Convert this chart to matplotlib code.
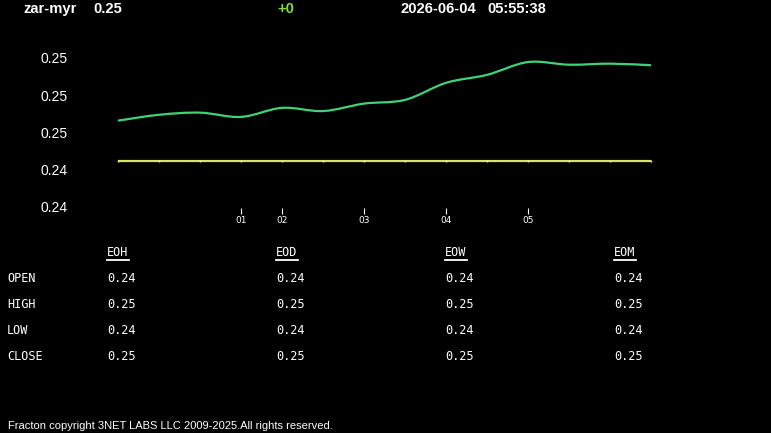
import matplotlib
matplotlib.use("Agg")
import matplotlib.pyplot as plt
from matplotlib.path import Path
from matplotlib.patches import PathPatch
from matplotlib.lines import Line2D
import numpy as np

# ---------------- data ----------------
symbol = "zar-myr"
last_price = "0.25"
change = "+0"
date_str = "2026-06-04"
time_str = "05:55:38"

price_series = [0.24562, 0.24573, 0.24577, 0.24569, 0.24586, 0.24580, 0.24594,
                0.24601, 0.24633, 0.24648, 0.24672, 0.24667, 0.24669, 0.24666]
ref_series = [0.24486] * 14

x_tick_pos = [3, 4, 6, 8, 10]
x_tick_labels = ["01", "02", "03", "04", "05"]
y_tick_values = [0.2440, 0.2447, 0.2454, 0.2461, 0.2468]
y_tick_labels = ["0.24", "0.24", "0.25", "0.25", "0.25"]

table_cols = ["EOH", "EOD", "EOW", "EOM"]
table_rows = ["OPEN", "HIGH", "LOW", "CLOSE"]
table_open = ["0.24", "0.24", "0.24", "0.24"]
table_high = ["0.25", "0.25", "0.25", "0.25"]
table_low = ["0.24", "0.24", "0.24", "0.24"]
table_close = ["0.25", "0.25", "0.25", "0.25"]
footer = "Fracton copyright 3NET LABS LLC 2009-2025.All rights reserved."

# ---------------- figure ----------------
W, H = 771, 433
fig = plt.figure(figsize=(W / 100, H / 100), dpi=100, facecolor="black")

def fx(x):
    return x / W

def fy(y):
    return 1 - y / H

ax_l, ax_r, ax_t, ax_b = 100, 670, 45, 208
ax = fig.add_axes([fx(ax_l), fy(ax_b), (ax_r - ax_l) / W, (ax_b - ax_t) / H])
ax.set_facecolor("black")
for s in ax.spines.values():
    s.set_visible(False)

n = len(price_series)
xs = np.arange(n)

def smooth_path(xv, yv):
    xv = np.asarray(xv, float)
    yv = np.asarray(yv, float)
    verts = [(xv[0], yv[0])]
    codes = [Path.MOVETO]
    for i in range(len(xv) - 1):
        p0 = (xv[max(i - 1, 0)], yv[max(i - 1, 0)])
        p1 = (xv[i], yv[i])
        p2 = (xv[i + 1], yv[i + 1])
        p3 = (xv[min(i + 2, len(xv) - 1)], yv[min(i + 2, len(xv) - 1)])
        c1 = (p1[0] + (p2[0] - p0[0]) / 6, p1[1] + (p2[1] - p0[1]) / 6)
        c2 = (p2[0] - (p3[0] - p1[0]) / 6, p2[1] - (p3[1] - p1[1]) / 6)
        verts += [c1, c2, p2]
        codes += [Path.CURVE4] * 3
    return Path(verts, codes)

ax.add_patch(PathPatch(smooth_path(xs, price_series), facecolor="none",
                       edgecolor="#3ed27a", lw=1.6))
ax.plot(xs, ref_series, color="#d8e36a", lw=1.6, marker="|", ms=2,
        markeredgecolor="#eef2a0", solid_capstyle="butt")

ax.set_xlim(-0.44, 13.46)
ax.set_ylim(0.24398, 0.24704)
ax.set_xticks(x_tick_pos)
ax.set_xticklabels(x_tick_labels)
ax.set_yticks(y_tick_values)
ax.set_yticklabels(y_tick_labels)
ax.tick_params(axis="x", colors="white", labelsize=6.5, length=4, width=0.8,
               direction="out", pad=2)
ax.tick_params(axis="y", colors="white", labelsize=10, length=0, pad=23)
for lab in ax.get_yticklabels():
    lab.set_fontfamily("Liberation Sans")

# ---------------- header ----------------
hdr = dict(color="white", fontsize=10.6, fontweight="bold",
           family="Liberation Sans", va="center", ha="left")
fig.text(fx(23), fy(9), symbol, **hdr)
fig.text(fx(93), fy(9), last_price, **hdr)
fig.text(fx(277), fy(9), change, **{**hdr, "color": "#7ee03a"})
fig.text(fx(400), fy(9), date_str, **hdr)
fig.text(fx(487), fy(9), time_str, **hdr)

# ---------------- table ----------------
mono = dict(color="white", fontsize=8.6, family="DejaVu Sans Mono",
            va="center", ha="left")
col_x = [107, 276, 445, 614]
row_y = [279, 304, 330, 356]
header_y = 253
for cx, name in zip(col_x, table_cols):
    fig.text(fx(cx), fy(header_y), name, **mono)
    fig.add_artist(Line2D([fx(cx), fx(cx + 22)], [fy(header_y + 7)] * 2,
                          color="white", lw=1.3))
for ry, name in zip(row_y, table_rows):
    fig.text(fx(7), fy(ry), name, **mono)
for ry, vals in zip(row_y, [table_open, table_high, table_low, table_close]):
    for cx, v in zip(col_x, vals):
        fig.text(fx(cx), fy(ry), v, **mono)

# ---------------- footer ----------------
fig.text(fx(8), fy(426), footer, color="white", fontsize=8,
         family="Liberation Sans", va="center", ha="left")

fig.savefig("out.png", dpi=100, facecolor="black")
